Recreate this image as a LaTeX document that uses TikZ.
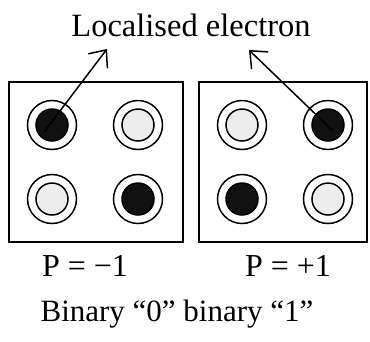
\documentclass[tikz,border=0pt]{standalone}
\usepackage{fontspec}
\setmainfont{Liberation Serif}
\usetikzlibrary{arrows.meta}
\definecolor{lightdot}{HTML}{EDEDED}
\definecolor{darkdot}{HTML}{111111}
\tikzset{
  panel/.style={draw, line width=1.6pt},
  ring/.style={circle, draw, line width=1.5pt, minimum size=49pt, inner sep=0pt},
  dotlight/.style={circle, draw, line width=1.5pt, fill=lightdot, minimum size=32pt, inner sep=0pt},
  dotdark/.style={circle, draw, line width=1.5pt, fill=darkdot, minimum size=32pt, inner sep=0pt},
  lbl/.style={anchor=base, inner sep=0pt, font=\fontsize{31}{36}\selectfont},
  pointer/.style={line width=1.5pt, -{Straight Barb[length=14pt,width=24pt,line width=1.5pt]}}
}
\begin{document}
\begin{tikzpicture}[x=1pt,y=-1pt]
\useasboundingbox (0,0) rectangle (370,341);
% panels
\node[panel, minimum width=174pt, minimum height=160pt, inner sep=0pt] (box1) at (96,162) {};
\node[panel, minimum width=168pt, minimum height=160pt, inner sep=0pt] (box2) at (283,162) {};
% left panel: P = -1
\node[ring] (r11) at (52,125) {}; \node[dotdark]  (d11) at (52,125) {};
\node[ring] (r12) at (138,125) {}; \node[dotlight] (d12) at (138,125) {};
\node[ring] (r13) at (52,199) {}; \node[dotlight] (d13) at (52,199) {};
\node[ring] (r14) at (138,199) {}; \node[dotdark]  (d14) at (138,199) {};
% right panel: P = +1
\node[ring] (r21) at (242,125) {}; \node[dotlight] (d21) at (242,125) {};
\node[ring] (r22) at (328,125) {}; \node[dotdark]  (d22) at (328,125) {};
\node[ring] (r23) at (242,199) {}; \node[dotdark]  (d23) at (242,199) {};
\node[ring] (r24) at (328,199) {}; \node[dotlight] (d24) at (328,199) {};
% labels
\node[lbl, font=\fontsize{32.5}{38}\selectfont] (title) at (191,36.5) {Localised electron};
\node[lbl, font=\fontsize{32}{38}\selectfont] (p1) at (85,276.5) {P = −1};
\node[lbl, font=\fontsize{32}{38}\selectfont] (p2) at (288,276.5) {P = +1};
\node[lbl, font=\fontsize{31}{36}\selectfont] (bin) at (177,321) {Binary “0” binary “1”};
% pointers
\coordinate (t1) at (107,49);
\coordinate (t2) at (249,50);
\draw[pointer] ([shift={(-8pt,-7pt)}]d11.center) -- (t1);
\draw[pointer] ([shift={(5pt,-6pt)}]d22.center) -- (t2);
\end{tikzpicture}
\end{document}
